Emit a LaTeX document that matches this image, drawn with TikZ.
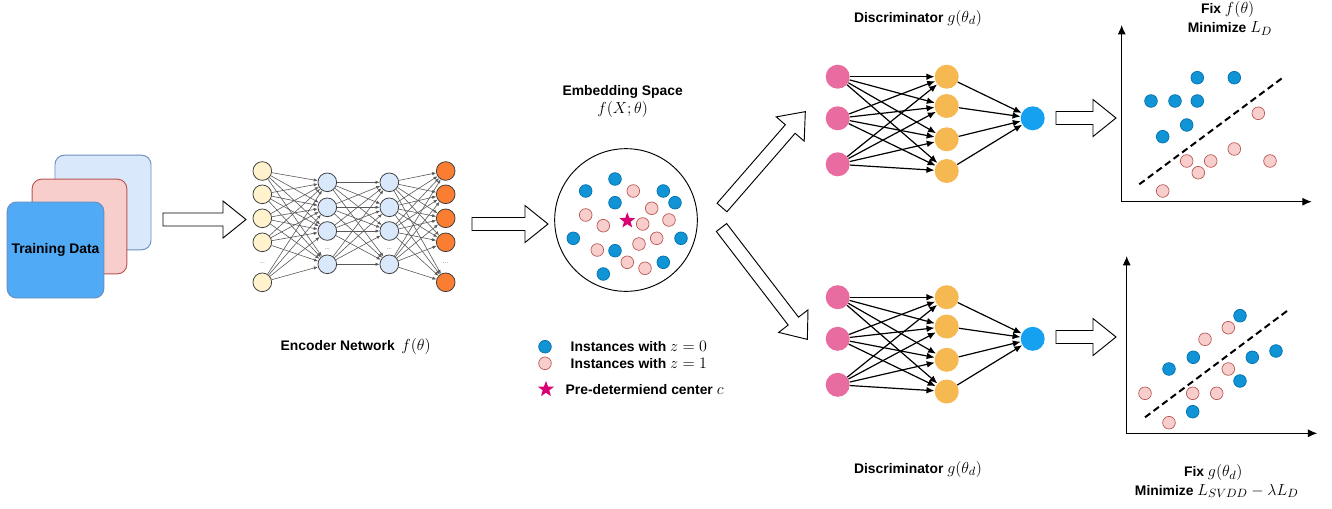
\documentclass[tikz,border=0pt]{standalone}
\usepackage[no-math]{fontspec}
\setmainfont{Liberation Sans}
\usetikzlibrary{arrows.meta,shapes.geometric}

\definecolor{databack}{RGB}{218,232,252}
\definecolor{databackline}{RGB}{108,142,191}
\definecolor{datamid}{RGB}{248,206,204}
\definecolor{datamidline}{RGB}{184,84,80}
\definecolor{datafront}{RGB}{80,170,245}
\definecolor{inyellow}{RGB}{255,242,204}
\definecolor{hidblue}{RGB}{218,232,252}
\definecolor{outorange}{RGB}{250,125,50}
\definecolor{ptblue}{RGB}{16,148,214}
\definecolor{ptblueline}{RGB}{0,110,170}
\definecolor{ptpink}{RGB}{248,206,204}
\definecolor{ptpinkline}{RGB}{184,84,80}
\definecolor{starred}{RGB}{216,0,115}
\definecolor{discpink}{RGB}{233,108,160}
\definecolor{discorange}{RGB}{246,185,82}
\definecolor{discblue}{RGB}{21,160,240}

\newcommand{\mth}[1]{{\mdseries\fontsize{13}{15}\selectfont$#1$}}

\tikzset{
  label text/.style={font=\fontsize{10.4}{12.5}\selectfont\bfseries},
  data card/.style={draw, rounded corners=7pt, line width=0.7pt, inner sep=0pt},
  enc node/.style={circle, draw=black!75, line width=0.6pt, minimum size=14pt, inner sep=0pt},
  disc node/.style={circle, minimum size=18pt, inner sep=0pt},
  pt zero/.style={circle, fill=ptblue, draw=ptblueline, line width=0.5pt, minimum size=9.5pt, inner sep=0pt},
  pt one/.style={circle, fill=ptpink, draw=ptpinkline, line width=0.5pt, minimum size=9.5pt, inner sep=0pt},
  center star/.style={star, star points=5, star point ratio=2.4, fill=starred, minimum size=12.5pt, inner sep=0pt},
  enc edge/.style={->, >={Latex[length=3pt,width=2.5pt]}, draw=black!65, line width=0.45pt},
  disc edge/.style={->, >={Latex[length=6pt,width=5pt]}, line width=0.9pt},
  enc dots/.style={font=\tiny, text=black!50, inner sep=0pt},
  split line/.style={dash pattern=on 5pt off 3pt, line width=1.5pt},
}

% hollow block arrow: start, angle, length
\newcommand{\fatarrow}[3]{%
  \draw[fill=white, line width=0.7pt, shift={#1}, rotate=#2]
    (0, -6.5) -- ({#3-23}, -6.5) -- ({#3-23}, -18.5) -- (#3, 0)
    -- ({#3-23}, 18.5) -- ({#3-23}, 6.5) -- (0, 6.5) -- cycle;}

\begin{document}
\begin{tikzpicture}[x=0.75pt, y=-0.75pt]
\useasboundingbox (0, 0) rectangle (1332, 508);

% training data
\node[data card, fill=databack, draw=databackline, minimum width=72pt, minimum height=71pt]
  (back) at (103, 202.5) {};
\node[data card, fill=datamid, draw=datamidline, minimum width=71pt, minimum height=71pt]
  (mid) at (79.5, 226.5) {};
\node[data card, fill=datafront, draw=databackline, minimum width=72.5pt, minimum height=72pt,
  label text] (data) at (55.5, 250) {Training Data};

\fatarrow{(163, 219.5)}{0}{83}

% encoder network
\foreach \y [count=\i] in {171, 194.3, 218.3, 242.3, 282.3}
  \node[enc node, fill=inyellow] (in\i) at (262.3, \y) {};
\foreach \y [count=\i] in {182.3, 207.3, 231, 264.3}
  \node[enc node, fill=hidblue] (hA\i) at (327.3, \y) {};
\foreach \y [count=\i] in {182.3, 207.3, 231, 264.3}
  \node[enc node, fill=hidblue] (hB\i) at (389.3, \y) {};
\foreach \y [count=\i] in {171, 194.3, 218.3, 242.3, 282.3}
  \node[enc node, fill=outorange] (out\i) at (445.7, \y) {};

\node[enc dots] (dotsin) at (262.3, 262.7) {...};
\node[enc dots] (dotsA) at (327.3, 249) {...};
\node[enc dots] (dotsB) at (389.3, 249) {...};
\node[enc dots] (dotsout) at (445.7, 262.7) {...};

\foreach \i in {1,...,5} \foreach \j in {1,...,4}
  \draw[enc edge] (in\i) -- (hA\j);
\foreach \i in {1,...,4} \foreach \j in {1,...,4}
  \draw[enc edge] (hA\i) -- (hB\j);
\foreach \i in {1,...,4} \foreach \j in {1,...,5}
  \draw[enc edge] (hB\i) -- (out\j);

\node[label text, anchor=west] (enclabel) at (276, 346)
  {Encoder Network\hspace{5pt}\mth{f(\theta)}};

\fatarrow{(472, 224)}{0}{76}

% embedding space
\node[label text] (embtitle) at (622.7, 91.7) {Embedding Space};
\node (embfun) at (622.7, 109.3) {\mth{f(X;\theta)}};
\node[circle, draw, line width=0.7pt, minimum size=107pt, inner sep=0pt] (space) at (626, 220) {};

\foreach \x/\y [count=\i] in {615/179, 585.7/191, 615/202.7, 663.3/191, 675/202.7,
    573.3/238.3, 615/250.7, 681/238.3, 663.3/262.3, 603.3/274}
  \node[pt zero] (ez\i) at (\x, \y) {};
\foreach \x/\y [count=\i] in {633.3/191, 651.7/208.3, 585.7/215, 603.3/225.7, 642.7/224,
    669/220, 656.7/238.3, 639/244, 597.3/250, 627.3/262.3, 645/268.3}
  \node[pt one] (eo\i) at (\x, \y) {};
\node[center star] (c) at (627.3, 220.7) {};

% legend
\node[pt zero] (legzero) at (545, 346.7) {};
\node[label text, anchor=west] (legzerotext) at (566, 346.7) {Instances with \mth{z=0}};
\node[pt one] (legone) at (545, 363.3) {};
\node[label text, anchor=west] (legonetext) at (566, 363.3) {Instances with \mth{z=1}};
\node[center star] (legstar) at (546, 389.3) {};
\node[label text, anchor=west] (legstartext) at (561, 389.3) {Pre-determiend center \mth{c}};

\fatarrow{(722, 207.5)}{49}{127}
\fatarrow{(721.5, 227.5)}{-52.5}{141}

% discriminators
\foreach \k/\dy in {t/0, b/220.5} {
  \begin{scope}[shift={(0, \dy)}]
    \foreach \y [count=\i] in {76.7, 118.3, 164.3}
      \node[disc node, fill=discpink] (\k-in\i) at (837.7, \y) {};
    \foreach \y [count=\i] in {76.7, 106, 139.3, 171}
      \node[disc node, fill=discorange] (\k-hid\i) at (946.7, \y) {};
    \node[disc node, fill=discblue] (\k-out) at (1032.7, 118.3) {};
    \foreach \i in {1,2,3} \foreach \j in {1,...,4}
      \draw[disc edge] (\k-in\i) -- (\k-hid\j);
    \foreach \j in {1,...,4}
      \draw[disc edge] (\k-hid\j) -- (\k-out);
  \end{scope}
}
\node[label text] (disctop) at (918, 18) {Discriminator \mth{g(\theta_d)}};
\node[label text] (discbot) at (918, 469) {Discriminator \mth{g(\theta_d)}};

\fatarrow{(1056, 118)}{0}{60}
\fatarrow{(1056, 337)}{0}{60}

% plot: fix f
\coordinate (yA) at (1121.7, 25);
\coordinate (xA) at (1311.7, 201.7);
\draw[<->, >={Latex[length=7pt,width=6pt]}, line width=0.8pt] (yA) |- (xA);
\foreach \x/\y [count=\i] in {1197.3/77.7, 1234.3/77.7, 1151/101, 1175/101, 1197.3/101,
    1186.7/125, 1162.7/136.7}
  \node[pt zero] (az\i) at (\x, \y) {};
\foreach \x/\y [count=\i] in {1258.3/113.3, 1234.3/149, 1186.7/161, 1210.7/161, 1270/161,
    1198.3/172.7, 1162.7/191}
  \node[pt one] (ao\i) at (\x, \y) {};
\coordinate (sA1) at (1139.3, 184.3);
\coordinate (sA2) at (1282.7, 77.7);
\draw[split line] (sA1) -- (sA2);
\node[label text] (fixf) at (1227.7, 9) {Fix \mth{f(\theta)}};
\node[label text] (minld) at (1230, 28.3) {Minimize \mth{L_D}};

% plot: fix g
\coordinate (yB) at (1126.7, 256);
\coordinate (xB) at (1317.3, 433.3);
\draw[<->, >={Latex[length=7pt,width=6pt]}, line width=0.8pt] (yB) |- (xB);
\foreach \x/\y [count=\i] in {1240/315.7, 1193.3/357.3, 1252.3/357.3, 1276/351, 1169/369,
    1240/381, 1192.7/411.7}
  \node[pt zero] (bz\i) at (\x, \y) {};
\foreach \x/\y [count=\i] in {1228.3/327.7, 1205/339.3, 1228.3/369, 1145/393.3, 1192.7/393.3,
    1216.7/393.3, 1169/422.7}
  \node[pt one] (bo\i) at (\x, \y) {};
\coordinate (sB1) at (1145, 417.3);
\coordinate (sB2) at (1288.3, 310);
\draw[split line] (sB1) -- (sB2);
\node[label text] (fixg) at (1213.3, 472.5) {Fix \mth{g(\theta_d)}};
\node[label text] (minsvdd) at (1216.7, 491) {Minimize \mth{L_{SVDD}-\lambda L_D}};

\end{tikzpicture}
\end{document}
